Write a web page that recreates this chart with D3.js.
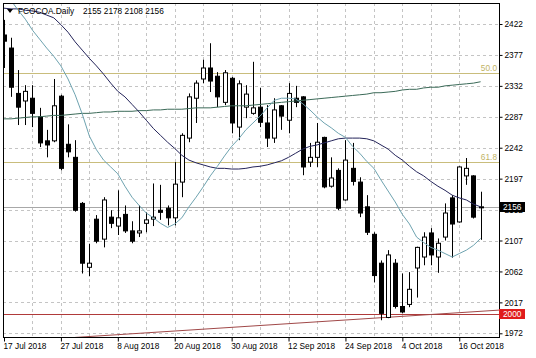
<!DOCTYPE html>
<html>
<head>
<meta charset="utf-8">
<script src="https://cdn.jsdelivr.net/npm/d3@7"></script>
<style>
  html, body { margin: 0; padding: 0; background: #fff; }
  svg { display: block; }
  text { font-family: "Liberation Sans", Arial, sans-serif; font-size: 8.3px; fill: #000; }
</style>
</head>
<body>
<div id="chart"></div>
<script>
// daily bars, 17 Jul 2018 .. 19 Oct 2018
const opens = [2406,2387,2321,2310,2314,2287,2252,2252,2317,2247,2228,2161,2068,2138,2109,2141,2128,2145,2121,2118,
  2132,2138,2151,2154,2140,2192,2256,2314,2342,2358,2346,2308,2343,2272,2301,2292,2301,2278,2256,2303,
  2282,2314,2316,2221,2228,2257,2186,2209,2166,2212,2192,2156,2116,2074,1995,2074,2011,2014,2067,2083,
  2118,2083,2112,2169,2134,2201,2201,2155];
const highs = [2428,2402,2355,2333,2333,2300,2268,2342,2319,2276,2253,2163,2102,2144,2170,2151,2180,2158,2135,2158,
  2148,2190,2188,2158,2221,2263,2321,2340,2370,2394,2352,2355,2345,2340,2333,2367,2329,2304,2314,2304,
  2336,2332,2317,2249,2278,2258,2228,2212,2253,2249,2199,2173,2119,2078,2093,2080,2059,2061,2098,2119,
  2125,2110,2161,2173,2215,2227,2202,2178];
const lows = [2358,2316,2275,2275,2272,2243,2228,2250,2209,2228,2149,2059,2055,2103,2097,2125,2115,2118,2103,2112,
  2119,2128,2137,2129,2129,2170,2250,2278,2336,2323,2301,2304,2263,2253,2285,2290,2272,2243,2249,2268,
  2263,2301,2202,2214,2214,2183,2184,2151,2165,2187,2141,2115,2046,1991,1994,2008,2001,2010,2024,2071,
  2071,2060,2107,2082,2133,2188,2139,2108];
const closes = [2397,2330,2301,2324,2292,2249,2246,2303,2212,2236,2151,2074,2074,2106,2166,2132,2140,2121,2106,2121,
  2137,2141,2148,2140,2189,2260,2316,2336,2358,2339,2316,2351,2278,2335,2320,2300,2279,2256,2297,2288,
  2321,2308,2214,2228,2250,2185,2198,2154,2224,2193,2147,2119,2056,2001,2086,2011,2003,2036,2097,2112,
  2086,2103,2147,2131,2214,2212,2141,2156];

// moving averages
const maFast = [2470,2456,2442,2429,2413,2400,2387,2375,2361,2342,2319,2291,2259,2239,2224,2214,2204,2186,2170,2158,
  2147,2140,2132,2126,2131,2140,2156,2170,2185,2201,2215,2230,2244,2255,2268,2278,2288,2300,2311,2314,
  2314,2313,2306,2297,2287,2278,2271,2263,2257,2244,2234,2222,2212,2195,2179,2163,2145,2131,2112,2104,
  2097,2093,2088,2083,2088,2093,2100,2110];
const maMid = [2445,2444,2444,2442,2441,2439,2435,2431,2421,2410,2396,2384,2372,2361,2349,2336,2324,2316,2305,2294,
  2282,2270,2260,2250,2241,2231,2224,2220,2217,2214,2212,2212,2211,2211,2212,2214,2215,2217,2220,2223,
  2228,2234,2240,2244,2246,2249,2252,2255,2256,2256,2256,2255,2252,2246,2240,2231,2224,2215,2207,2201,
  2193,2186,2180,2173,2169,2166,2160,2156];
const maSlow = [2284,2284,2285,2286,2287,2287,2288,2289,2289,2290,2291,2292,2292,2293,2294,2294,2295,2295,2295,2296,
  2296,2297,2297,2298,2298,2298,2299,2300,2300,2300,2301,2302,2303,2303,2303,2304,2305,2306,2307,2308,
  2309,2310,2311,2312,2313,2314,2315,2316,2317,2318,2319,2320,2322,2322,2323,2324,2326,2327,2327,2329,
  2330,2330,2332,2333,2334,2335,2336,2338];

const priceTicks = [1972,2017,2062,2107,2152,2197,2242,2287,2332,2377,2422];
const dateLabels = ["17 Jul 2018","27 Jul 2018","8 Aug 2018","20 Aug 2018","30 Aug 2018","12 Sep 2018","24 Sep 2018","4 Oct 2018","16 Oct 2018"];
const dateIdx = [0,8,16,24,32,40,48,56,64];

const fibLevels = [2351, 2221.5];
const fibNames = ["50.0", "61.8"];
const supportLevel = 2000;
const trendIdx = [10, 67];
const trendPrice = [1966, 2004];
const title = "FCOCOA.Daily";
const lastQuote = [2155, 2178, 2108, 2156];

const width = 536, height = 358;
const pl = 3, pt = 3, pr = 499, pb = 337;

const svg = d3.select("#chart").append("svg")
  .attr("width", width)
  .attr("height", height);

svg.append("rect").attr("width", width).attr("height", height).attr("fill", "#fff");

svg.append("clipPath").attr("id", "plot")
  .append("rect").attr("x", pl).attr("y", pt).attr("width", pr - pl).attr("height", pb - pt);

const x = d3.scaleLinear().domain([0, 67]).range([4, 480.6]);
const y = d3.scaleLinear().domain([1972, 2422]).range([333.3, 24]);

const plot = svg.append("g").attr("clip-path", "url(#plot)");

// grid
plot.selectAll(".hgrid")
  .data(priceTicks)
  .enter()
  .append("line")
  .attr("x1", pl).attr("x2", pr)
  .attr("y1", d => Math.round(y(d)) + 0.5).attr("y2", d => Math.round(y(d)) + 0.5)
  .attr("stroke", "#c4c4c4")
  .attr("stroke-dasharray", "3,3");

plot.selectAll(".vgrid")
  .data(d3.range(4, 68, 4))
  .enter()
  .append("line")
  .attr("x1", d => Math.round(x(d)) + 0.5).attr("x2", d => Math.round(x(d)) + 0.5)
  .attr("y1", pt).attr("y2", pb)
  .attr("stroke", "#c4c4c4")
  .attr("stroke-dasharray", "3,3");

// level lines
plot.selectAll(".fib")
  .data(fibLevels)
  .enter()
  .append("line")
  .attr("x1", pl).attr("x2", pr)
  .attr("y1", d => Math.round(y(d)) + 0.5).attr("y2", d => Math.round(y(d)) + 0.5)
  .attr("stroke", "#c9bd7c");

plot.selectAll(".fibtxt")
  .data(fibLevels)
  .enter()
  .append("text")
  .attr("x", pr - 2)
  .attr("y", d => y(d) - 2)
  .attr("text-anchor", "end")
  .style("fill", "#c2b466")
  .text((d, i) => fibNames[i]);

plot.append("line")
  .attr("x1", pl).attr("x2", pr)
  .attr("y1", Math.round(y(closes[closes.length - 1])) + 0.5)
  .attr("y2", Math.round(y(closes[closes.length - 1])) + 0.5)
  .attr("stroke", "#a8a8a8");

plot.append("line")
  .attr("x1", pl).attr("x2", pr)
  .attr("y1", Math.round(y(supportLevel)) + 0.5).attr("y2", Math.round(y(supportLevel)) + 0.5)
  .attr("stroke", "#b03a3a");

const slope = (trendPrice[1] - trendPrice[0]) / (trendIdx[1] - trendIdx[0]);
const endIdx = x.invert(pr);
plot.append("line")
  .attr("x1", x(trendIdx[0])).attr("y1", y(trendPrice[0]))
  .attr("x2", x(endIdx)).attr("y2", y(trendPrice[0] + slope * (endIdx - trendIdx[0])))
  .attr("stroke", "#a04848");

// candles
const bars = d3.range(opens.length).map(i => ({
  i, o: opens[i], h: highs[i], l: lows[i], c: closes[i]
}));

const candle = plot.selectAll(".candle")
  .data(bars)
  .enter()
  .append("g");

candle.append("line")
  .attr("x1", d => Math.round(x(d.i)) + 0.5).attr("x2", d => Math.round(x(d.i)) + 0.5)
  .attr("y1", d => y(d.h)).attr("y2", d => y(d.l))
  .attr("stroke", "#000");

candle.append("rect")
  .attr("x", d => Math.round(x(d.i)) - 2 + 0.5)
  .attr("width", 4)
  .attr("y", d => y(Math.max(d.o, d.c)))
  .attr("height", d => Math.max(1, Math.abs(y(d.o) - y(d.c))))
  .attr("fill", d => d.c >= d.o ? "#fff" : "#000")
  .attr("stroke", "#000");

// moving averages
const maLine = arr => d3.line().x((d, i) => x(i)).y(d => y(d))(arr);

plot.append("path").attr("d", maLine(maSlow)).attr("fill", "none").attr("stroke", "#3b6a58");
plot.append("path").attr("d", maLine(maMid)).attr("fill", "none").attr("stroke", "#24245a");
plot.append("path").attr("d", maLine(maFast)).attr("fill", "none").attr("stroke", "#6ea3b0");

// frame
svg.append("rect")
  .attr("x", pl + 0.5).attr("y", pt + 0.5)
  .attr("width", pr - pl).attr("height", pb - pt)
  .attr("fill", "none")
  .attr("stroke", "#000");

// price axis
const yAxis = svg.append("g")
  .attr("transform", `translate(${pr + 0.5},0)`)
  .call(d3.axisRight(y).tickValues(priceTicks).tickSize(3).tickPadding(2).tickFormat(d3.format("d")));
yAxis.select(".domain").remove();
yAxis.selectAll("text").style("font-size", "8.3px").style("font-family", "Liberation Sans, Arial, sans-serif");

// date axis
const xAxis = svg.append("g")
  .attr("transform", `translate(0,${pb + 0.5})`)
  .call(d3.axisBottom(x).tickValues(dateIdx).tickSize(4).tickFormat((d, k) => dateLabels[k]));
xAxis.select(".domain").remove();
xAxis.selectAll("text")
  .attr("text-anchor", "start")
  .attr("dx", -1)
  .attr("y", 6)
  .style("font-size", "8.3px").style("font-family", "Liberation Sans, Arial, sans-serif");

// price markers
const tags = [
  { v: closes[closes.length - 1], bg: "#000" },
  { v: supportLevel, bg: "#e01c1c" }
];
const tag = svg.selectAll(".tag")
  .data(tags)
  .enter()
  .append("g")
  .attr("transform", d => `translate(${pr},${Math.round(y(d.v))})`);
tag.append("rect").attr("x", 0).attr("y", -5).attr("width", 26).attr("height", 10).attr("fill", d => d.bg);
tag.append("text").attr("x", 4).attr("y", 3).style("fill", "#fff").text(d => d.v);

// title
svg.append("path")
  .attr("d", "M7,9 L13,9 L10,13 Z")
  .attr("fill", "#000");
svg.append("text")
  .attr("x", 18).attr("y", 14)
  .text(title);
svg.append("text")
  .attr("x", 83).attr("y", 14)
  .text(lastQuote.join(" "));
</script>
</body>
</html>
